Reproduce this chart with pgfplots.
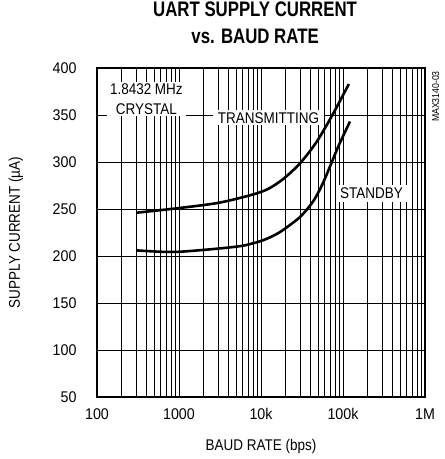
\documentclass[border=0pt]{standalone}
\usepackage{fontspec}
\setmainfont{Liberation Sans}[FakeStretch=0.87]
\newfontfamily\titlefont{Liberation Sans}[FakeStretch=0.8]
\newfontfamily\tickfont{Liberation Sans}[FakeStretch=0.92]
\usepackage{pgfplots}
\pgfplotsset{compat=1.18}
\begin{document}
\begin{tikzpicture}[font=\fontsize{15.5}{19.5}\selectfont]
\useasboundingbox (-97pt,-62pt) rectangle (348pt,397pt);
\begin{axis}[
 at={(0pt,0pt)}, anchor=south west,
 scale only axis, width=328pt, height=329pt,
 xmode=log, xmin=100, xmax=1000000, ymin=50, ymax=400,
 xtick={100,1000,10000,100000,1000000},
 xticklabels={100,1000,10k,100k,1M},
 minor xtick={200,300,400,500,600,700,800,900,2000,3000,4000,5000,6000,7000,8000,9000,20000,30000,40000,50000,60000,70000,80000,90000,200000,300000,400000,500000,600000,700000,800000,900000},
 ytick={50,100,150,200,250,300,350,400},
 grid=both,
 major grid style={black,line width=0.9pt},
 minor grid style={black,line width=0.8pt},
 axis line style={line width=2.4pt},
 major tick length=0pt, minor tick length=0pt,
 /pgf/number format/assume math mode=true,
 tick label style={font=\tickfont\fontsize{15.5}{18}\selectfont},
 yticklabel shift=17pt,
 xticklabel shift=8pt,
 xlabel={BAUD RATE (bps)},
 ylabel={SUPPLY CURRENT (µA)},
 xlabel style={at={(rel axis cs:0.5,-0.149)}, anchor=center},
 ylabel style={at={(rel axis cs:-0.247,0.5)}, anchor=center},
 title={UART SUPPLY CURRENT\\vs. BAUD RATE},
 title style={font=\titlefont\bfseries\fontsize{21}{27}\selectfont, align=center, at={(rel axis cs:0.482,1)}, anchor=south, inner sep=0pt, yshift=18pt},
]
\addplot[black, line width=2.6pt, smooth, tension=0.5] coordinates {
 (300,246) (1000,251) (3000,256.5) (7300,264.5) (12000,271) (18700,282) (29900,298.6) (47800,321.6) (76200,351.8) (118000,383)
};
\addplot[black, line width=2.6pt, smooth, tension=0.5] coordinates {
 (300,206) (600,204.5) (1000,204.5) (2000,206.5) (4000,209) (6310,211.3) (10000,216) (13335,220.5) (17783,226.5) (28184,239.5) (35481,248.5) (44668,260) (56234,276.5) (70795,297) (89125,318) (121619,343)
};
\node[fill=white, align=center, inner xsep=3pt, inner ysep=2pt] at (axis cs:400,367) {1.8432 MHz\\CRYSTAL};
\node[fill=white, inner xsep=5pt, inner ysep=2pt] at (axis cs:12340,347) {TRANSMITTING};
\node[fill=white, inner xsep=4pt, inner ysep=3pt] at (axis cs:222800,266.5) {STANDBY};
\end{axis}
\node[rotate=90, anchor=north east, inner sep=0pt, font=\fontsize{10}{12}\selectfont] at (335pt,326pt) {MAX3140-03};
\end{tikzpicture}
\end{document}
